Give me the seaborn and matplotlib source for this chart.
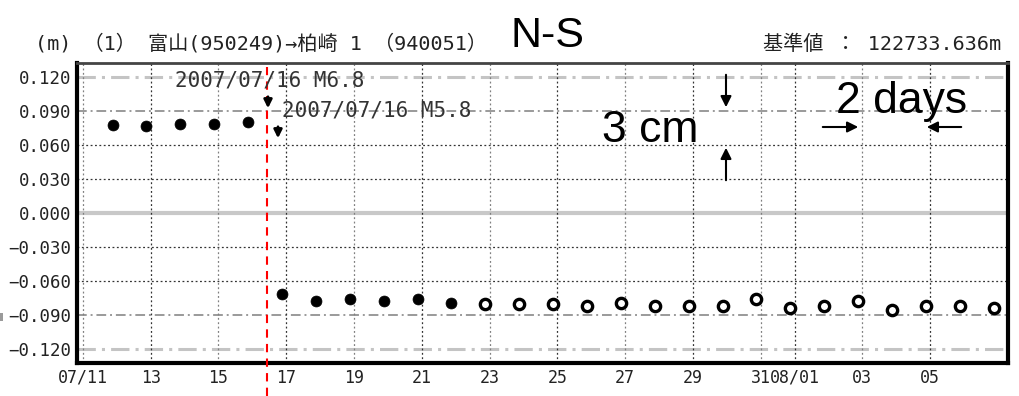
import pandas as pd
import seaborn as sns
import matplotlib
matplotlib.use("Agg")
import matplotlib.pyplot as plt
from matplotlib.patches import FancyArrowPatch, Rectangle

# GNSS baseline N-S component, 富山 -> 柏崎1 (values in m)
obs_times = [
    "2007-07-11 21:00", "2007-07-12 21:00", "2007-07-13 21:00", "2007-07-14 21:00",
    "2007-07-15 21:00",
    "2007-07-16 21:00", "2007-07-17 21:00", "2007-07-18 21:00", "2007-07-19 21:00",
    "2007-07-20 21:00", "2007-07-21 21:00", "2007-07-22 21:00", "2007-07-23 21:00",
    "2007-07-24 21:00", "2007-07-25 21:00", "2007-07-26 21:00", "2007-07-27 21:00",
    "2007-07-28 21:00", "2007-07-29 21:00", "2007-07-30 21:00", "2007-07-31 21:00",
    "2007-08-01 21:00", "2007-08-02 21:00", "2007-08-03 21:00", "2007-08-04 21:00",
    "2007-08-05 21:00", "2007-08-06 21:00",
]
ns_values = [
    0.0778, 0.0763, 0.0784, 0.0784, 0.0804,
    -0.0717, -0.0775, -0.0755, -0.0775, -0.0755, -0.0796,
    -0.0799, -0.0799, -0.0799, -0.0819, -0.0796, -0.0819, -0.0819, -0.0819,
    -0.0755, -0.0834, -0.0819, -0.0775, -0.0854, -0.0819, -0.0819, -0.0834,
]
# F = final solution (filled), R = rapid solution (open)
solution = ["F"] * 11 + ["R"] * 16

tick_dates = ["2007-07-11", "2007-07-13", "2007-07-15", "2007-07-17", "2007-07-19",
              "2007-07-21", "2007-07-23", "2007-07-25", "2007-07-27", "2007-07-29",
              "2007-07-31", "2007-08-01", "2007-08-03", "2007-08-05"]
tick_labels = ["07/11", "13", "15", "17", "19", "21", "23", "25", "27", "29",
               "31", "08/01", "03", "05"]
y_ticks = [0.120, 0.090, 0.060, 0.030, 0.000, -0.030, -0.060, -0.090, -0.120]
y_labels = ["0.120", "0.090", "0.060", "0.030", "0.000",
            "\u22120.030", "\u22120.060", "\u22120.090", "\u22120.120"]
quake_time = "2007-07-16 10:13"

df = pd.DataFrame({"time": pd.to_datetime(obs_times), "ns": ns_values, "sol": solution})

sns.set_style("white")
plt.rcParams["font.family"] = ["Noto Sans CJK JP", "DejaVu Sans"]
MONO_JP = ["DejaVu Sans Mono", "Noto Sans CJK JP"]

W, H = 1019, 396
fig = plt.figure(figsize=(W / 100, H / 100), dpi=100)
ax = fig.add_axes([77 / W, 1 - 363 / H, (1008 - 77) / W, (363 - 63) / H])


def fx(px):
    return px / W


def fy(py):
    return 1 - py / H


# grid
for v in [0.060, 0.030, -0.030, -0.060]:
    ax.axhline(v, color="#333333", lw=0.9, ls=(0, (1.5, 2)), zorder=1)
for v in [0.090, -0.090]:
    ax.axhline(v, color="#9a9a9a", lw=1.4, ls=(0, (5, 2, 1, 2)), zorder=1)
for v in [0.120, -0.120]:
    ax.axhline(v, color="#c4c4c4", lw=2.2, ls=(0, (6, 2, 1, 2)), zorder=1)
ax.axhline(0.0, color="#c8c8c8", lw=3, zorder=1)
for i, d in enumerate(pd.to_datetime(tick_dates)):
    col = "#333333" if i % 2 else "#808080"
    ax.axvline(d, color=col, lw=0.9, ls=(0, (1.5, 2)), zorder=1)

sns.scatterplot(data=df[df["sol"] == "F"], x="time", y="ns", ax=ax,
                color="black", s=62, edgecolor="black", linewidth=0.5, zorder=3)
sns.scatterplot(data=df[df["sol"] == "R"], x="time", y="ns", ax=ax,
                color="white", s=55, edgecolor="black", linewidth=2.4, zorder=3)

# earthquake line, running down past the axis
ax.axvline(pd.to_datetime(quake_time), ymin=-0.11, ymax=0.987, color="red",
           lw=1.5, ls=(0, (4, 3)), clip_on=False, zorder=4)

ax.set_ylim(-0.132, 0.132)
ax.set_xlim(pd.Timestamp("2007-07-11") - pd.Timedelta(hours=4.2),
            pd.Timestamp("2007-08-07 07:10"))
ax.set_yticks(y_ticks)
ax.set_yticklabels(y_labels, family=["DejaVu Sans Mono"], fontsize=12.5, color="#222222")
ax.set_xticks(pd.to_datetime(tick_dates))
ax.set_xticklabels(tick_labels, family=["DejaVu Sans Mono"], fontsize=12, color="#222222")
ax.tick_params(length=0, pad=4)
ax.set_xlabel("")
ax.set_ylabel("")
for side in ["left", "bottom", "right"]:
    ax.spines[side].set_color("black")
    ax.spines[side].set_linewidth(3)
ax.spines["top"].set_color("#444444")
ax.spines["top"].set_linewidth(2)

# header texts
fig.text(fx(35), fy(44), "(m) （1） 富山(950249)→柏崎 1 （940051）", fontsize=14.5,
         family=MONO_JP, color="#222222", va="center", ha="left")
fig.text(fx(510), fy(47), "N-S", fontsize=31, family=["Liberation Sans"],
         va="baseline", ha="left", color="black")
fig.text(fx(1001), fy(44), "基準値 ： 122733.636m", fontsize=14.5, family=MONO_JP,
         color="#222222", va="center", ha="right")

# small grey mark at the left edge
fig.add_artist(Rectangle((0, fy(321)), fx(3), 8 / H, transform=fig.transFigure,
                         color="#9a9a9a", lw=0))

# earthquake labels
fig.text(fx(175), fy(80), "2007/07/16 M6.8", fontsize=15, family=["DejaVu Sans Mono"],
         color="#333333", va="center", ha="left")
fig.text(fx(282), fy(110), "2007/07/16 M5.8", fontsize=15, family=["DejaVu Sans Mono"],
         color="#333333", va="center", ha="left")
small = dict(arrowstyle="-|>", color="black", lw=2, mutation_scale=12)
fig.add_artist(FancyArrowPatch((fx(268), fy(94)), (fx(268), fy(111)),
                               transform=fig.transFigure, **small))
fig.add_artist(FancyArrowPatch((fx(278), fy(124)), (fx(278), fy(141)),
                               transform=fig.transFigure, **small))

# scale annotations
fig.text(fx(602), fy(142), "3 cm", fontsize=32, family=["Liberation Sans"],
         va="baseline", ha="left", color="black")
fig.text(fx(836), fy(113), "2 days", fontsize=32, family=["Liberation Sans"],
         va="baseline", ha="left", color="black")
big = dict(arrowstyle="-|>", color="black", lw=1.5, mutation_scale=16)
for p0, p1 in [((726, 72), (726, 110)), ((726, 183), (726, 145)),
               ((820, 127), (861, 127)), ((964, 127), (924, 127))]:
    fig.add_artist(FancyArrowPatch((fx(p0[0]), fy(p0[1])), (fx(p1[0]), fy(p1[1])),
                                   transform=fig.transFigure, **big))

fig.savefig("out.png", dpi=100, facecolor="white")
